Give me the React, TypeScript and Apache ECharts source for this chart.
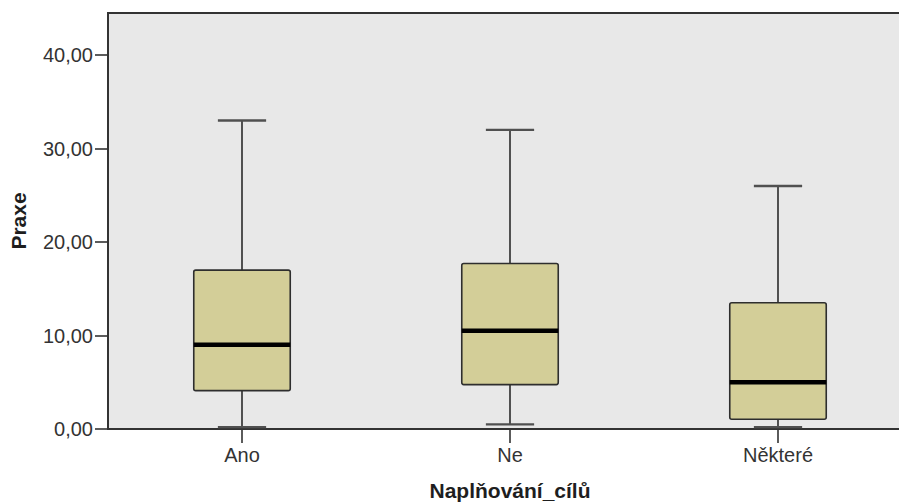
import React, { useEffect, useRef } from "react";
import * as echarts from "echarts";

// Praxe (years of practice) by goal fulfilment group
const categories = ["Ano", "Ne", "Některé"];
const lowerWhisker = [0.2, 0.5, 0.2];
const q1 = [4.1, 4.75, 1.05];
const median = [9.0, 10.5, 5.0];
const q3 = [17.0, 17.7, 13.5];
const upperWhisker = [33.0, 32.0, 26.0];
const yTicks = [0, 10, 20, 30, 40];

const FONT = "'Liberation Sans', Arial, sans-serif";

export default function App() {
  const ref = useRef<HTMLDivElement>(null);

  useEffect(() => {
    if (!ref.current) return;
    const chart = echarts.init(ref.current, null, { renderer: "svg" });

    const data = categories.map((_, i) => [
      i,
      lowerWhisker[i],
      q1[i],
      median[i],
      q3[i],
      upperWhisker[i],
    ]);

    const renderItem = (params: any, api: any) => {
      const idx = api.value(0);
      const band = api.size([1, 0])[0];
      const boxW = band * 0.36;
      const capW = band * 0.18;
      const pLow = api.coord([idx, api.value(1)]);
      const pQ1 = api.coord([idx, api.value(2)]);
      const pMed = api.coord([idx, api.value(3)]);
      const pQ3 = api.coord([idx, api.value(4)]);
      const pHigh = api.coord([idx, api.value(5)]);
      const cx = pMed[0];
      const whiskerStyle = { stroke: "#2a2a2a", lineWidth: 1.6 };
      const capStyle = { stroke: "#505050", lineWidth: 2.4 };
      return {
        type: "group",
        children: [
          {
            type: "line",
            shape: { x1: cx, y1: pHigh[1], x2: cx, y2: pQ3[1] },
            style: whiskerStyle,
          },
          {
            type: "line",
            shape: { x1: cx, y1: pQ1[1], x2: cx, y2: pLow[1] },
            style: whiskerStyle,
          },
          {
            type: "line",
            shape: { x1: cx - capW / 2, y1: pHigh[1], x2: cx + capW / 2, y2: pHigh[1] },
            style: capStyle,
          },
          {
            type: "line",
            shape: { x1: cx - capW / 2, y1: pLow[1], x2: cx + capW / 2, y2: pLow[1] },
            style: capStyle,
          },
          {
            type: "rect",
            shape: {
              x: cx - boxW / 2,
              y: pQ3[1],
              width: boxW,
              height: pQ1[1] - pQ3[1],
              r: 2,
            },
            style: { fill: "#d3ce98", stroke: "#2e2e2e", lineWidth: 1.6 },
          },
          {
            type: "line",
            shape: { x1: cx - boxW / 2, y1: pMed[1], x2: cx + boxW / 2, y2: pMed[1] },
            style: { stroke: "#000000", lineWidth: 4.5 },
          },
        ],
      };
    };

    chart.setOption({
      animation: false,
      backgroundColor: "#ffffff",
      grid: {
        left: 108,
        top: 13,
        width: 804,
        height: 416,
        outerBoundsMode: "none",
        containLabel: false,
        show: true,
        backgroundColor: "#e8e8e8",
        borderColor: "#333333",
        borderWidth: 2,
      },
      xAxis: {
        type: "category",
        data: categories,
        name: "Naplňování_cílů",
        nameLocation: "middle",
        nameGap: 51,
        nameTextStyle: {
          fontFamily: FONT,
          fontSize: 21,
          fontWeight: "bold",
          color: "#1e1e1e",
        },
        axisLine: { lineStyle: { color: "#333333", width: 2 } },
        axisTick: {
          show: true,
          alignWithLabel: true,
          length: 14,
          lineStyle: { color: "#333333", width: 1.6 },
        },
        axisLabel: {
          margin: 16,
          fontFamily: FONT,
          fontSize: 20,
          color: "#333333",
        },
        splitLine: { show: false },
      },
      yAxis: {
        type: "value",
        min: 0,
        max: 44.5,
        interval: 10,
        name: "Praxe",
        nameLocation: "middle",
        nameGap: 79,
        nameRotate: 90,
        nameTextStyle: {
          fontFamily: FONT,
          fontSize: 21,
          fontWeight: "bold",
          color: "#1e1e1e",
        },
        axisLine: { show: true, lineStyle: { color: "#333333", width: 2 } },
        axisTick: {
          show: true,
          length: 13,
          customValues: yTicks,
          lineStyle: { color: "#333333", width: 1.6 },
        },
        axisLabel: {
          margin: 15,
          customValues: yTicks,
          fontFamily: FONT,
          fontSize: 20,
          color: "#333333",
          formatter: (v: number) => v.toFixed(2).replace(".", ","),
        },
        splitLine: { show: false },
      },
      series: [
        {
          type: "custom",
          renderItem,
          data,
          encode: { x: 0, y: [1, 2, 3, 4, 5] },
          clip: false,
        },
      ],
    });

    return () => chart.dispose();
  }, []);

  return (
    <div
      ref={ref}
      style={{ position: "absolute", left: 0, top: 0, width: 899, height: 502 }}
    />
  );
}
